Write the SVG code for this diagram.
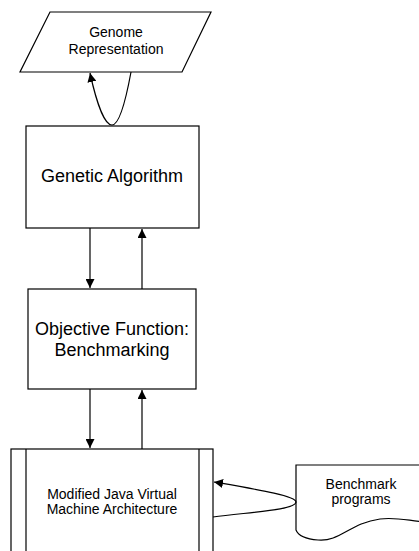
<svg xmlns="http://www.w3.org/2000/svg" width="419" height="551" viewBox="0 0 419 551">
<style>
.s{fill:#fff;stroke:#000;stroke-width:1.2}
.c{fill:none;stroke:#000;stroke-width:1.2}
text{font-family:"Liberation Sans",Arial,sans-serif;fill:#000;text-anchor:middle}
</style>
<defs>
<marker id="ah" viewBox="0 0 10 10" refX="10" refY="5" markerWidth="9" markerHeight="9" markerUnits="userSpaceOnUse" orient="auto">
<path d="M0,0L10,5L0,10z" fill="#000"/>
</marker>
</defs>
<rect width="419" height="551" fill="#fff"/>
<g id="genome">
<polygon class="s" points="50,12 211,12 182,72 20,72"/>
<text x="116" y="37" font-size="14">Genome</text>
<text x="116" y="54" font-size="14">Representation</text>
</g>
<g id="ga">
<rect class="s" x="26" y="126" width="173" height="102"/>
<text x="112" y="182" font-size="18">Genetic Algorithm</text>
</g>
<g id="objective">
<rect class="s" x="28" y="289" width="168" height="100"/>
<text x="112" y="335" font-size="18">Objective Function:</text>
<text x="112" y="356" font-size="18">Benchmarking</text>
</g>
<g id="jvm">
<rect class="s" x="11" y="449" width="202" height="110"/>
<line class="c" x1="26" y1="449" x2="26" y2="559"/>
<line class="c" x1="199" y1="449" x2="199" y2="559"/>
<text x="112" y="499" font-size="14">Modified Java Virtual</text>
<text x="112" y="514" font-size="14">Machine Architecture</text>
</g>
<g id="benchmark">
<path class="s" d="M296,465 L425,465 L425,522 C405,520 395,517 380,519 C350,523 340,542 318,540 C305,539 298,535 296,530 Z"/>
<text x="361" y="489" font-size="14">Benchmark</text>
<text x="361" y="504" font-size="14">programs</text>
</g>
<g id="connectors">
<path class="c" d="M131,72 C124,110 118,125 112,125 C105,125 97,105 90,73" marker-end="url(#ah)"/>
<line class="c" x1="90" y1="228" x2="90" y2="288" marker-end="url(#ah)"/>
<line class="c" x1="142" y1="289" x2="142" y2="229" marker-end="url(#ah)"/>
<line class="c" x1="90" y1="389" x2="90" y2="448" marker-end="url(#ah)"/>
<line class="c" x1="142" y1="449" x2="142" y2="390" marker-end="url(#ah)"/>
<path class="c" d="M213,517 C250,512 296,510 296,502 C296,496 260,490 214,482" marker-end="url(#ah)"/>
</g>
</svg>
